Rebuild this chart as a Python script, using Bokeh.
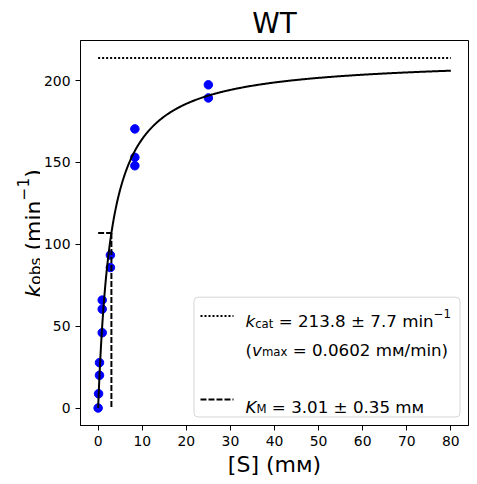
import numpy as np
from bokeh.plotting import figure
from bokeh.layouts import row
from bokeh.models import Range1d, FixedTicker, Label, BoxAnnotation, Arrow
from bokeh.embed import file_html
from bokeh.resources import INLINE

# ---- data ----
substrate_mM = [0, 0.103, 0.309, 0.309, 0.926, 0.926, 0.926, 2.78, 2.78,
                8.33, 8.33, 8.33, 25, 25]
kobs_per_min = [0, 8.7, 20.0, 27.7, 46.0, 60.4, 65.9, 85.8, 93.4,
                170.5, 153.1, 148.0, 197.4, 189.4]
kcat = 213.8
kcat_err = 7.7
KM = 3.01
KM_err = 0.35
vmax = 0.0602
fit_xmax = 80
x_ticks = [0, 10, 20, 30, 40, 50, 60, 70, 80]
y_ticks = [0, 50, 100, 150, 200]

FONT = "DejaVu Sans"
W = {' ': 651, '(': 799, ')': 799, '[': 799, ']': 799, '=': 1716, '±': 1716,
     '.': 651, '/': 690, 'a': 1255, 'b': 1300, 'c': 1126, 'i': 569, 'k': 1186,
     'm': 1995, 'n': 1298, 'o': 1253, 's': 1067, 't': 803, 'x': 1212, 'v': 1212,
     'K': 1343, 'M': 1767, 'S': 1300, '−': 1716, 'ᴍ': 1480}
for d in "0123456789":
    W[d] = 1303


def tw(s, size):
    return sum(W.get(c, 1200) for c in s) / 2048.0 * size


LEFT_W = 40
TOP = 40
FRAME_W, FRAME_H = 388, 385
BOTTOM = 56
TOTAL_H = TOP + FRAME_H + BOTTOM

p = figure(frame_width=FRAME_W, frame_height=FRAME_H, output_backend="svg",
           toolbar_location=None, x_range=Range1d(-4, 84),
           y_range=Range1d(-10.69, 224.49),
           min_border_left=80 - LEFT_W, min_border_top=TOP, min_border_right=6,
           min_border_bottom=BOTTOM, title="WT")
p.title.text_font = FONT
p.title.text_font_size = "27.8px"
p.title.text_font_style = "normal"
p.title.text_color = "black"
p.title.align = "center"
p.title.standoff = 2
p.xgrid.visible = False
p.ygrid.visible = False
p.outline_line_color = "black"
p.outline_line_width = 1
p.background_fill_color = "white"
p.border_fill_color = "white"

for ax in (p.xaxis[0], p.yaxis[0]):
    ax.axis_line_color = "black"
    ax.major_tick_line_color = "black"
    ax.major_tick_out = 5
    ax.major_tick_in = 0
    ax.minor_tick_line_color = None
    ax.major_label_text_font = FONT
    ax.major_label_text_font_size = "13.9px"
    ax.major_label_text_color = "black"
p.xaxis[0].ticker = FixedTicker(ticks=x_ticks)
p.yaxis[0].ticker = FixedTicker(ticks=y_ticks)
p.xaxis[0].major_label_standoff = 5
p.yaxis[0].major_label_standoff = 5
p.xaxis[0].axis_label = "[S] (mᴍ)"
p.xaxis[0].axis_label_text_font = FONT
p.xaxis[0].axis_label_text_font_size = "22px"
p.xaxis[0].axis_label_text_font_style = "normal"
p.xaxis[0].axis_label_text_color = "black"
p.xaxis[0].axis_label_standoff = 3

# data points
p.scatter(substrate_mM, kobs_per_min, size=8.5, color="#0000ff")

# Michaelis-Menten fit curve
s_fit = np.linspace(0, fit_xmax, 500)
p.line(s_fit, kcat * s_fit / (KM + s_fit), line_color="black", line_width=2)

# kcat line and KM guides
p.line([0, fit_xmax], [kcat, kcat], line_color="black", line_width=2,
       line_dash="2 2")
p.line([0, KM], [kcat / 2, kcat / 2], line_color="black", line_width=2,
       line_dash="6 2")
p.line([KM, KM], [kcat / 2, 0], line_color="black", line_width=2,
       line_dash="6 2")


def rich(fig, segments, x0, y0, rotated=False):
    adv = 0.0
    for text, size, style, dy in segments:
        lead = len(text) - len(text.lstrip(" "))
        adv += tw(" " * lead, size)
        body = text.lstrip(" ")
        if rotated:
            lx, ly, ang = x0 - dy, y0 + adv, np.pi / 2
        else:
            lx, ly, ang = x0 + adv, y0 + dy, 0
        fig.add_layout(Label(x=lx, y=ly, x_units="screen", y_units="screen",
                             text=body, angle=ang, text_font=FONT,
                             text_font_size=f"{size}px", text_font_style=style,
                             text_color="black", text_align="left",
                             text_baseline="alphabetic"))
        adv += tw(body, size)


# legend
p.add_layout(BoxAnnotation(left=113.5, right=379.5, bottom=8.5, top=128.3,
                           left_units="screen", right_units="screen",
                           bottom_units="screen", top_units="screen",
                           fill_color="white", fill_alpha=0.8,
                           line_color="#cccccc", line_alpha=0.8,
                           line_width=1, border_radius=4))
p.add_layout(Arrow(end=None, x_start=120, x_end=153, y_start=109.5, y_end=109.5,
                   start_units="screen", end_units="screen",
                   line_color="black", line_width=2, line_dash="2 2"))
p.add_layout(Arrow(end=None, x_start=120, x_end=153, y_start=26, y_end=26,
                   start_units="screen", end_units="screen",
                   line_color="black", line_width=2, line_dash="6 2"))
lf, ls = 16.7, 11.7
rich(p, [("k", lf, "italic", 0), ("cat", ls, "normal", -0.14 * lf),
         (f" = {kcat} ± {kcat_err} min", lf, "normal", 0),
         ("−1", ls, "normal", 0.45 * lf)], 165, 104.3)
rich(p, [("(", lf, "normal", 0), ("v", lf, "italic", 0),
         ("max", ls, "normal", -0.14 * lf),
         (f" = {vmax} mᴍ/min)", lf, "normal", 0)], 165, 75.7)
rich(p, [("K", lf, "italic", 0), ("M", ls, "normal", -0.14 * lf),
         (f" = {KM} ± {KM_err} mᴍ", lf, "normal", 0)], 165, 18.5)

# y-axis label panel (separate narrow figure to the left; its frame is
# aligned with the main frame by the row layout)
ylab = figure(width=LEFT_W, height=TOTAL_H, output_backend="svg",
              toolbar_location=None, x_axis_location=None,
              y_axis_location=None, min_border=0, x_range=Range1d(0, 1),
              y_range=Range1d(0, 1))
ylab.outline_line_color = None
ylab.xgrid.visible = False
ylab.ygrid.visible = False
ylab.background_fill_color = "white"
ylab.border_fill_color = "white"
big, small = 22.0, 15.4
rich(ylab, [("k", big, "italic", 0), ("obs", small, "normal", -0.12 * big),
            (" (min", big, "normal", 0), ("−1", small, "normal", 0.45 * big),
            (")", big, "normal", 0)], 32.5, (TOP + FRAME_H) - 297, rotated=True)

layout = row(ylab, p)
open("out.html", "w").write(file_html(layout, INLINE))
